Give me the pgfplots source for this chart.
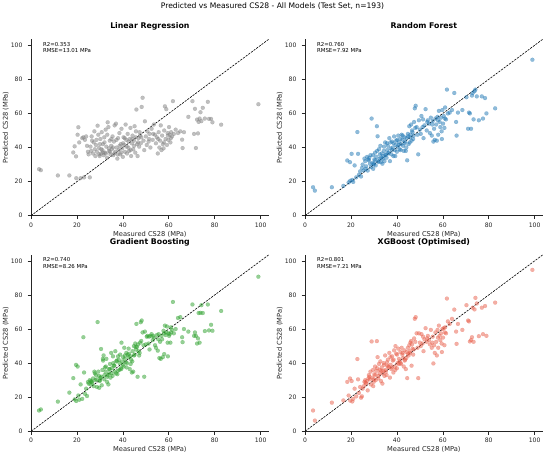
\documentclass[border=0pt]{standalone}
\usepackage{pgfplots}
\pgfplotsset{compat=1.18}
\usepackage{pgfplotstable}
\usepackage{fontspec}
\setmainfont{DejaVu Sans}
\definecolor{txt}{HTML}{262626}
\definecolor{lrc}{HTML}{7F7F7F}
\definecolor{rfc}{HTML}{1F77B4}
\definecolor{gbc}{HTML}{2CA02C}
\definecolor{xgc}{HTML}{E8604C}
\pgfplotstableread{
x lr rf gb xgb
3.5 27.3 16.7 12.2 12.2
4.3 26.7 14.7 12.8 6.3
11.7 23.6 16.7 17.4 16.8
16.7 23.6 17.5 22.7 18.1
18.4 37.1 32.4 31.2 29.0
19.0 40.7 19.5 18.7 21.0
19.6 34.8 31.4 39.0 31.0
19.7 22.0 20.5 17.8 18.0
20.3 47.5 36.3 38.0 29.5
20.6 51.9 21.0 21.0 17.5
21.0 43.0 19.8 18.5 19.0
21.6 22.0 29.5 27.5 25.0
22.3 45.5 22.5 19.0 20.5
22.8 46.0 49.1 55.2 42.4
23.1 22.5 36.3 34.5 30.5
23.5 44.5 24.0 22.0 22.5
24.0 46.5 26.0 25.0 26.0
24.4 41.0 23.0 20.7 19.7
24.8 37.5 28.0 29.0 20.5
25.1 36.0 30.0 28.0 25.0
25.6 22.5 26.5 30.0 26.5
25.9 40.5 33.5 27.5 29.0
26.2 38.0 32.0 29.5 30.0
26.4 46.5 27.5 29.0 28.5
26.6 44.0 29.0 28.5 28.0
27.0 36.5 34.5 31.0 29.5
27.3 43.0 26.5 26.5 24.0
27.6 49.5 33.0 35.0 31.0
27.8 39.0 32.5 34.0 33.0
28.0 35.0 34.0 30.0 32.0
28.3 41.5 30.5 33.0 30.5
28.5 44.5 35.5 30.5 35.0
28.7 37.5 28.5 26.0 27.5
29.0 52.8 57.0 64.1 52.7
29.3 47.5 31.0 35.0 31.5
29.6 39.7 35.5 32.5 36.0
29.7 36.0 27.5 25.5 26.5
29.9 35.0 30.0 29.5 29.0
30.0 42.0 30.5 30.0 30.5
30.2 45.0 33.0 31.5 33.5
30.5 36.5 37.0 48.3 38.0
30.6 39.0 32.5 32.0 33.0
30.8 49.0 29.5 27.0 30.0
31.1 38.5 34.5 36.0 35.5
31.3 42.0 52.5 42.5 52.9
31.4 37.0 38.0 41.5 37.0
31.6 35.5 46.6 44.5 43.5
31.9 46.0 32.0 30.5 31.0
32.0 43.0 31.5 33.0 32.5
32.2 37.0 39.0 37.5 39.5
32.5 50.5 33.5 35.0 34.0
32.6 36.5 36.0 38.0 36.0
32.8 40.5 41.0 42.5 41.0
33.1 34.0 31.5 29.0 29.5
33.2 47.5 34.0 32.0 35.5
33.4 54.8 36.5 33.0 37.5
33.7 52.0 30.5 27.5 28.0
33.9 39.5 33.5 36.5 34.0
34.0 38.0 35.0 34.0 35.5
34.3 44.0 38.0 36.5 40.0
34.4 37.5 40.5 39.5 39.0
34.6 36.0 32.0 31.5 32.5
34.9 41.0 43.0 46.0 44.5
35.0 45.0 35.5 34.0 36.0
35.2 39.0 36.0 37.0 35.0
35.5 46.5 34.0 32.5 33.0
35.7 40.0 42.5 44.0 40.5
35.8 35.5 38.5 40.0 38.5
36.1 43.5 41.0 38.5 42.0
36.3 36.5 36.5 38.5 38.0
36.4 53.0 37.0 35.0 37.5
36.7 37.5 45.5 47.0 46.0
37.0 54.0 32.0 34.0 31.5
37.2 44.5 43.0 41.0 43.5
37.3 40.0 39.5 41.5 39.0
37.6 33.5 36.0 33.5 36.5
37.8 36.0 38.5 35.5 37.5
37.9 45.5 43.5 44.0 44.0
38.2 38.5 40.0 42.0 41.5
38.5 48.5 35.0 36.0 34.5
38.6 41.0 42.5 40.0 42.0
38.8 36.0 46.5 45.0 47.5
39.1 42.0 38.5 37.0 38.0
39.3 37.0 35.0 36.5 36.0
39.4 51.0 41.5 52.0 50.0
39.7 39.5 44.0 41.0 45.5
40.0 34.5 37.5 39.0 37.0
40.1 42.5 44.5 43.5 45.0
40.3 46.0 40.5 38.0 40.0
40.6 41.5 47.0 49.0 48.5
40.8 45.5 41.5 42.5 39.5
40.9 37.5 43.0 44.5 42.5
41.2 53.5 39.0 40.5 41.0
41.5 44.5 45.0 46.0 46.5
41.6 40.5 38.5 37.5 40.0
41.8 36.5 42.0 40.0 39.5
42.1 48.0 47.5 45.0 49.0
42.4 40.0 44.5 43.5 45.0
42.5 43.5 47.0 48.5 46.0
42.7 38.0 41.0 45.5 43.0
43.0 45.0 38.0 36.5 38.0
43.3 51.5 46.0 44.0 47.5
43.4 38.5 42.5 39.5 41.5
43.6 35.0 43.5 42.0 42.0
43.9 42.5 38.0 34.5 36.5
44.1 45.0 40.0 41.0 43.0
44.2 47.0 45.5 47.0 46.5
44.5 39.0 32.5 35.0 31.2
44.8 44.0 48.0 50.0 49.0
44.9 41.0 46.5 44.5 45.5
45.1 52.5 42.0 45.0 44.5
45.4 37.0 52.5 51.5 50.5
45.6 46.0 43.0 49.5 47.0
45.7 49.5 46.0 48.0 46.0
45.9 62.3 47.5 63.0 52.0
46.2 42.0 53.5 49.5 53.0
46.4 35.0 44.0 32.0 38.5
46.6 43.0 50.0 51.0 51.0
46.8 45.5 49.0 47.0 48.5
47.1 40.5 45.0 44.5 45.0
47.3 49.0 47.0 46.0 48.0
47.5 47.0 55.0 52.0 54.5
47.8 42.5 63.0 64.0 66.0
48.0 46.0 51.5 53.0 52.5
48.2 63.8 64.5 65.0 67.0
48.6 69.2 52.0 58.0 57.5
49.0 44.0 47.5 50.5 49.0
49.3 38.5 36.0 32.0 31.2
49.6 55.4 56.0 58.5 57.5
50.0 46.5 50.5 51.0 52.0
50.4 41.5 48.0 55.5 50.0
50.7 49.5 58.5 56.0 57.0
51.2 43.5 52.0 51.5 51.5
51.4 45.0 56.5 55.5 55.5
51.6 48.0 45.5 48.0 47.0
52.0 40.0 53.0 56.0 54.0
52.5 51.0 62.5 57.0 60.5
53.0 44.5 50.0 53.5 52.5
53.2 48.0 55.0 56.0 54.5
53.5 53.5 56.0 55.0 56.0
54.0 47.5 54.0 50.5 53.5
54.4 42.5 48.5 49.0 51.0
54.8 46.0 57.5 56.5 59.5
55.2 36.5 47.0 47.3 49.0
55.4 45.0 53.5 54.0 52.0
55.6 49.0 55.5 57.0 55.5
55.9 40.0 43.5 43.0 39.8
56.2 44.0 51.0 52.5 50.5
56.5 53.0 44.5 42.5 46.0
56.8 38.5 57.0 56.0 58.0
57.1 47.0 53.5 54.0 52.5
57.4 42.0 44.0 43.5 44.5
57.7 39.5 58.0 59.0 59.5
57.9 43.0 56.0 57.5 55.0
58.0 50.0 47.5 45.3 49.0
58.3 64.2 61.5 62.0 62.0
58.6 45.0 55.0 56.5 56.0
58.9 62.5 52.0 58.0 53.5
59.2 41.5 57.5 61.5 57.5
59.5 48.5 49.5 52.0 51.5
59.6 47.0 45.0 44.0 46.5
59.8 44.5 62.0 57.5 60.0
60.1 52.0 54.0 56.0 55.0
60.4 47.5 58.5 57.0 60.5
60.7 43.0 51.5 52.0 50.5
60.9 45.5 57.0 61.0 58.0
61.0 49.0 63.5 58.0 61.0
61.4 46.5 56.5 59.5 57.5
61.8 67.2 74.0 75.9 77.9
62.2 48.0 60.0 57.5 64.5
63.0 50.5 60.5 60.0 63.0
64.0 48.5 62.0 66.5 66.0
65.0 49.5 72.0 67.0 71.4
65.8 44.6 55.0 55.2 58.5
66.0 39.7 47.0 52.3 51.3
66.6 49.0 60.5 60.0 63.0
68.5 58.0 62.0 58.5 59.5
70.3 67.2 69.5 74.4 74.0
71.0 48.0 51.0 56.0 65.0
71.4 62.7 60.5 58.0 64.5
71.8 39.7 60.0 56.0 52.7
72.3 56.4 51.0 51.5 53.5
72.7 48.3 70.5 54.5 55.2
73.0 55.0 72.0 69.4 72.5
73.4 57.0 56.5 52.0 52.5
73.8 60.7 73.0 69.5 71.5
74.2 55.5 74.0 74.0 78.3
74.8 63.3 70.0 69.4 75.0
75.7 57.0 56.0 58.8 55.8
77.0 66.8 70.0 74.4 72.5
77.5 56.8 57.0 59.2 57.0
78.4 56.8 69.0 62.5 73.5
79.0 54.8 60.0 59.0 56.0
82.8 53.4 63.0 70.6 75.5
99.0 65.4 91.5 90.7 94.7
}\data
\pgfplotsset{panel/.style={
  scale only axis, width=237.7bp, height=176.4bp,
  xmin=0, xmax=103.5, ymin=0, ymax=103.5,
  axis x line*=bottom, axis y line*=left,
  axis line style={-, line width=0.6bp, color=txt},
  tick align=outside, major tick length=3.5bp,
  tick style={line width=0.6bp, color=txt},
  xtick={0,20,...,100}, ytick={0,20,...,100},
  /pgf/number format/assume math mode=true,
  ticklabel style={font=\fontsize{6.1bp}{7bp}\selectfont, text=txt},
  yticklabel style={xshift=-1.5bp},
  xlabel={Measured CS28 (MPa)}, ylabel={Predicted CS28 (MPa)},
  label style={font=\fontsize{6.7bp}{7.5bp}\selectfont, text=txt},
  xlabel style={at={(axis description cs:0.5,-0.1168)}, anchor=base},
  ylabel style={at={(axis description cs:-0.1064,0.5)}, anchor=center},
  title style={at={(axis description cs:0.5,1)}, anchor=base, yshift=4.6bp,
    font=\fontsize{7.8bp}{8.5bp}\selectfont\bfseries, text=black},
}}
\pgfplotsset{pts/.style={only marks, mark=*, mark size=2.0bp, color=#1,
  mark options={solid, draw=#1, fill=#1, line width=0.1bp, opacity=0.5}}}
\newcommand{\stats}[2]{\node[anchor=north west, inner sep=0pt, align=left,
  font=\fontsize{5.4bp}{6.5bp}\selectfont, text=black]
  at (axis description cs:0.05,0.985) {R2=#1\\RMSE=#2 MPa};}
\newcommand{\diag}{\addplot[black, line width=0.6bp, dash pattern=on 2.2bp off 1.1bp] coordinates {(0,0) (103.5,103.5)};}
\begin{document}
\begin{tikzpicture}
\useasboundingbox (0,0) rectangle (550bp,456bp);
\node[anchor=base, font=\fontsize{7.6bp}{8bp}\selectfont, text=black] at (272.5bp,447.8bp)
  {Predicted vs Measured CS28 - All Models (Test Set, n=193)};
\begin{axis}[panel, at={(31bp,240.3bp)}, anchor=south west, title={Linear Regression}]
\addplot[pts=lrc] table[x=x, y=lr]{\data};
\diag
\stats{0.353}{13.01}
\end{axis}
\begin{axis}[panel, at={(305bp,240.3bp)}, anchor=south west, title={Random Forest}]
\addplot[pts=rfc] table[x=x, y=rf]{\data};
\diag
\stats{0.760}{7.92}
\end{axis}
\begin{axis}[panel, at={(31bp,24.7bp)}, anchor=south west, title={Gradient Boosting}]
\addplot[pts=gbc] table[x=x, y=gb]{\data};
\diag
\stats{0.740}{8.26}
\end{axis}
\begin{axis}[panel, at={(305bp,24.7bp)}, anchor=south west, title={XGBoost (Optimised)}]
\addplot[pts=xgc] table[x=x, y=xgb]{\data};
\diag
\stats{0.801}{7.21}
\end{axis}
\end{tikzpicture}
\end{document}
